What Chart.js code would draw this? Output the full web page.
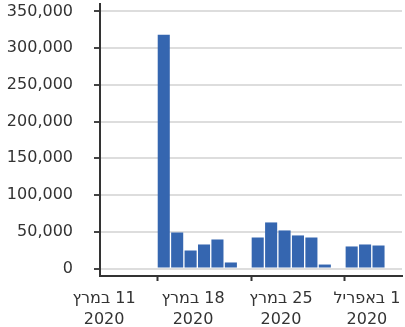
<!DOCTYPE html>
<html lang="he">
<head>
<meta charset="UTF-8">
<title>Chart</title>
<script src="https://cdn.jsdelivr.net/npm/chart.js"></script>
<style>
  html, body { margin: 0; padding: 0; background: #fff; }
  #wrap { width: 405px; height: 327px; }
</style>
</head>
<body>
<div id="wrap"><canvas id="chart" dir="rtl"></canvas></div>
<script>
// days counted from 11 March 2020 (day 0)
const days = [4, 5, 6, 7, 8, 9, 10, 11, 12, 13, 14, 15, 16, 17, 18, 19, 20];
const values = [318000, 49000, 24500, 32700, 39500, 8200, 0, 42200, 62700, 51800, 45000, 42200, 5400, 0, 30000, 32700, 31300];
const tickDays = [0, 7, 14, 21];
const tickLabels = [['11 במרץ', '2020'], ['18 במרץ', '2020'], ['25 במרץ', '2020'], ['1 באפריל', '2020']];
const labelShift = [-6, -11, -17, -25]; // labels sit a little left of their ticks in the original
const yTicks = [0, 50000, 100000, 150000, 200000, 250000, 300000, 350000];

const font = { family: 'DejaVu Sans', size: 16, lineHeight: 1.3 };

// draws the two-line date labels under the x ticks
const dateLabels = {
  id: 'dateLabels',
  afterDraw(chart) {
    const sc = chart.scales.x;
    const ctx = chart.ctx;
    ctx.save();
    ctx.font = '16px "DejaVu Sans"';
    ctx.fillStyle = '#333';
    ctx.textAlign = 'center';
    ctx.textBaseline = 'alphabetic';
    tickDays.forEach((d, i) => {
      const x = sc.getPixelForValue(d) + labelShift[i];
      tickLabels[i].forEach((line, j) => {
        ctx.fillText(line, x, sc.top + 27 + j * 21);
      });
    });
    ctx.restore();
  }
};

new Chart(document.getElementById('chart'), {
  type: 'bar',
  data: {
    datasets: [{
      data: days.map((d, i) => ({ x: d, y: values[i] })),
      backgroundColor: '#3566b0',
      barPercentage: 0.9,
      categoryPercentage: 1.0
    }]
  },
  options: {
    responsive: true,
    maintainAspectRatio: false,
    animation: false,
    layout: { padding: { top: 4, right: 3, left: 0, bottom: 0 } },
    plugins: { legend: { display: false }, tooltip: { enabled: false } },
    scales: {
      x: {
        type: 'linear',
        offset: false,
        min: -0.75,
        max: 21.75,
        afterBuildTicks: s => { s.ticks = tickDays.map(v => ({ value: v })); },
        afterFit: s => { s.height = 51; s.paddingLeft = 0; s.paddingRight = 0; },
        grid: { display: true, drawOnChartArea: false, drawTicks: true, tickLength: 5, tickColor: '#333', tickWidth: 2 },
        border: { color: '#333', width: 2 },
        ticks: { display: false }
      },
      y: {
        min: -10200,
        max: 360000,
        afterBuildTicks: s => { s.ticks = yTicks.map(v => ({ value: v })); },
        afterFit: s => { s.width = 100; s.paddingTop = 0; s.paddingBottom = 0; },
        grid: { color: '#dddddd', lineWidth: 2, tickLength: 6, tickColor: '#444', tickWidth: 2 },
        border: { color: '#333', width: 2 },
        ticks: {
          color: '#333',
          font: font,
          padding: 21,
          callback: v => v.toLocaleString('en-US')
        }
      }
    }
  },
  plugins: [dateLabels]
});
</script>
</body>
</html>
